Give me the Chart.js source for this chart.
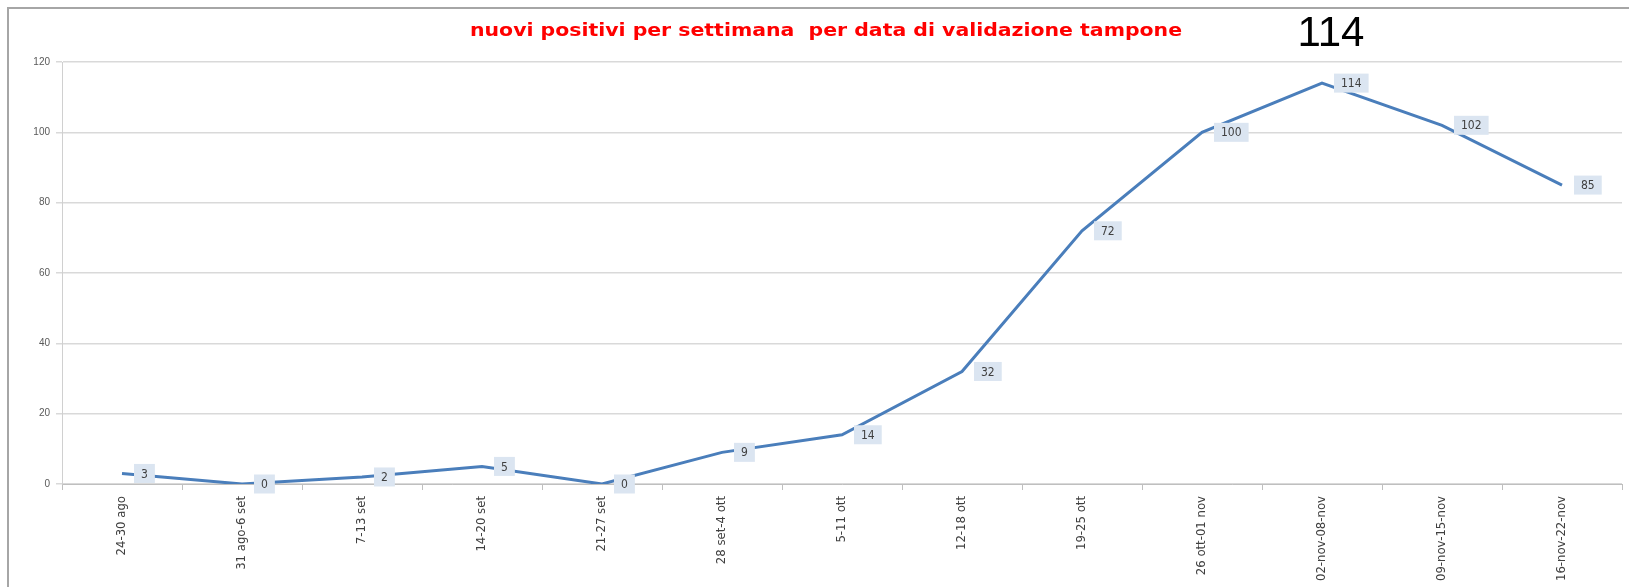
<!DOCTYPE html>
<html>
<head>
<meta charset="utf-8">
<script src="https://cdn.jsdelivr.net/npm/chart.js@4/dist/chart.umd.min.js"></script>
<style>
  html, body { margin: 0; padding: 0; background: #fff; }
  #wrap { position: relative; width: 1629px; height: 587px; }
</style>
</head>
<body>
<div id="wrap"><canvas id="chart"></canvas></div>
<script>
// dati
const weeks = ['24-30 ago', '31 ago-6 set', '7-13 set', '14-20 set', '21-27 set', '28 set-4 ott',
  '5-11 ott', '12-18 ott', '19-25 ott', '26 ott-01 nov', '02-nov-08-nov', '09-nov-15-nov', '16-nov-22-nov'];
const positives = [3, 0, 2, 5, 0, 9, 14, 32, 72, 100, 114, 102, 85];
const yTicks = [0, 20, 40, 60, 80, 100, 120];
const titleText = 'nuovi positivi per settimana  per data di validazione tampone';
const noteText = '114';

const linecolor = '#4a7ebb';
const gridcolor = '#d9d9d9';
const tickfont = '"Liberation Sans Narrow", "DejaVu Sans Condensed", sans-serif';

// cornice, titolo e nota
const decor = {
  id: 'decor',
  beforeDraw: (chart) => {
    const ctx = chart.ctx;
    ctx.save();
    ctx.strokeStyle = '#a6a6a6';
    ctx.lineWidth = 2;
    ctx.beginPath();
    ctx.moveTo(8, chart.height);
    ctx.lineTo(8, 8);
    ctx.lineTo(chart.width, 8);
    ctx.stroke();
    ctx.restore();
  },
  afterDraw: (chart) => {
    const ctx = chart.ctx;
    ctx.save();
    ctx.textBaseline = 'middle';
    ctx.textAlign = 'center';
    ctx.fillStyle = '#ff0000';
    ctx.font = 'bold 18px "DejaVu Sans", sans-serif';
    // il titolo originale è allargato in orizzontale
    const stretch = 712 / ctx.measureText(titleText).width;
    ctx.save();
    ctx.translate(826, 31);
    ctx.scale(stretch, 1);
    ctx.fillText(titleText, 0, 0);
    ctx.restore();
    ctx.fillStyle = '#000';
    ctx.font = '42px "Liberation Sans", sans-serif';
    ctx.fillText(noteText, 1331, 34);
    ctx.restore();
  },
};

// etichette dei valori a destra dei punti
const valuelabels = {
  id: 'valuelabels',
  afterDatasetsDraw: (chart) => {
    const ctx = chart.ctx;
    const meta = chart.getDatasetMeta(0);
    ctx.save();
    ctx.font = '12px ' + tickfont;
    ctx.textBaseline = 'middle';
    ctx.textAlign = 'left';
    meta.data.forEach((pt, i) => {
      const text = String(positives[i]);
      const w = ctx.measureText(text).width + 14;
      const h = 19;
      const x = pt.x + 12;
      ctx.fillStyle = '#dbe5f1';
      ctx.fillRect(x, pt.y - h / 2, w, h);
      ctx.fillStyle = '#404040';
      ctx.fillText(text, x + 7, pt.y + 1);
    });
    ctx.restore();
  },
};

new Chart(document.getElementById('chart').getContext('2d'), {
  type: 'line',
  data: {
    labels: weeks,
    datasets: [{
      label: 'nuovi positivi',
      data: positives,
      borderColor: linecolor,
      borderWidth: 3,
      tension: 0,
      pointRadius: 0,
      fill: false,
    }],
  },
  options: {
    responsive: true,
    maintainAspectRatio: false,
    devicePixelRatio: 1,
    animation: false,
    layout: {
      padding: { top: 62, right: 7, bottom: 0, left: 10 },
    },
    plugins: {
      legend: { display: false },
      title: { display: false },
      tooltip: { enabled: false },
    },
    scales: {
      x: {
        offset: true,
        afterFit: (s) => { s.height = 103; },
        grid: {
          drawOnChartArea: false,
          offset: true,
          tickLength: 6,
          color: '#bfbfbf',
        },
        border: { color: '#bfbfbf', width: 1 },
        ticks: {
          minRotation: 90,
          maxRotation: 90,
          autoSkip: false,
          padding: 6,
          color: '#404040',
          font: { family: tickfont, size: 13 },
        },
      },
      y: {
        min: 0,
        max: 120,
        afterFit: (s) => { s.width = 52; },
        afterBuildTicks: (s) => { s.ticks = yTicks.map(v => ({ value: v })); },
        grid: {
          color: gridcolor,
          lineWidth: 1.5,
          tickLength: 6,
        },
        border: { color: '#d0d0d0', width: 1 },
        ticks: {
          padding: 6,
          color: '#595959',
          font: { family: '"Liberation Sans", sans-serif', size: 10 },
        },
      },
    },
  },
  plugins: [decor, valuelabels],
});
</script>
</body>
</html>
